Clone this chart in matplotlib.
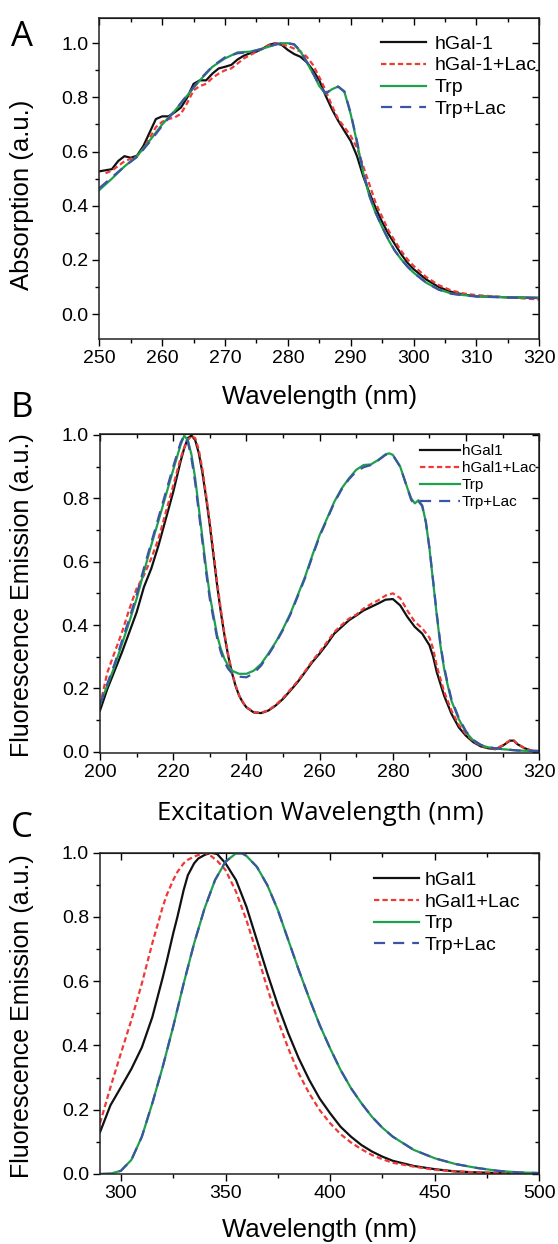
import matplotlib
matplotlib.use("Agg")
import matplotlib.pyplot as plt
from matplotlib.ticker import MultipleLocator

plt.rcParams['font.family'] = ['Liberation Sans', 'DejaVu Sans']

# ---------------- panel A: absorption ----------------
a_wl_hgal = [250, 252, 253, 254, 255, 256, 257, 258, 259, 260, 261, 262, 263, 264, 265, 266, 267, 268, 269, 270,
             271, 272, 273, 274, 275, 276, 277, 278, 279, 280, 281, 282, 283, 284, 285, 286, 287, 288, 289, 290,
             291, 292, 293, 294, 295, 296, 297, 298, 299, 300, 302, 304, 306, 308, 310, 315, 320]
a_hgal = [0.527, 0.535, 0.565, 0.583, 0.577, 0.585, 0.62, 0.67, 0.72, 0.73, 0.73, 0.745, 0.763, 0.80, 0.85, 0.863,
          0.863, 0.888, 0.907, 0.913, 0.92, 0.94, 0.954, 0.963, 0.969, 0.98, 0.994, 1.0, 0.994, 0.975, 0.96, 0.95,
          0.93, 0.90, 0.863, 0.807, 0.757, 0.714, 0.676, 0.639, 0.583, 0.508, 0.446, 0.39, 0.34, 0.296, 0.259,
          0.222, 0.19, 0.166, 0.128, 0.10, 0.082, 0.072, 0.066, 0.062, 0.06]
a_wl_hgal_lac = [251, 252, 254, 256, 257, 258, 259, 260, 261, 262, 263, 264, 265, 266, 267, 268, 269, 270, 271, 272,
                 273, 274, 275, 276, 277, 278, 279, 280, 281, 282, 283, 284, 285, 286, 287, 288, 289, 290, 291, 292,
                 293, 294, 295, 296, 297, 298, 299, 300, 302, 304, 306, 308, 310, 315, 320]
a_hgal_lac = [0.52, 0.53, 0.564, 0.583, 0.61, 0.65, 0.69, 0.71, 0.72, 0.726, 0.74, 0.78, 0.826, 0.842, 0.85, 0.872,
              0.888, 0.90, 0.907, 0.925, 0.944, 0.956, 0.969, 0.98, 0.993, 1.0, 0.995, 0.99, 0.98, 0.969, 0.95,
              0.92, 0.875, 0.826, 0.77, 0.72, 0.69, 0.658, 0.614, 0.545, 0.477, 0.408, 0.359, 0.309, 0.271, 0.234,
              0.203, 0.178, 0.137, 0.107, 0.087, 0.076, 0.07, 0.062, 0.054]
a_wl_trp = [250, 252, 254, 256, 258, 260, 262, 264, 266, 268, 270, 272, 274, 276, 278, 279, 280, 281, 282, 283,
            284, 285, 286, 287, 288, 289, 290, 291, 292, 293, 294, 295, 296, 297, 298, 299, 300, 302, 304, 306,
            308, 310, 315, 320]
a_trp = [0.458, 0.50, 0.545, 0.583, 0.64, 0.70, 0.75, 0.807, 0.863, 0.913, 0.944, 0.966, 0.969, 0.98, 0.995, 1.0,
         1.0, 0.995, 0.97, 0.93, 0.888, 0.842, 0.813, 0.83, 0.84, 0.82, 0.738, 0.633, 0.52, 0.433, 0.371, 0.321,
         0.274, 0.234, 0.203, 0.176, 0.153, 0.116, 0.091, 0.076, 0.07, 0.066, 0.062, 0.06]
a_trp_lac = [0.465, 0.505, 0.545, 0.58, 0.635, 0.695, 0.75, 0.81, 0.866, 0.915, 0.948, 0.963, 0.967, 0.98, 0.995,
             1.0, 1.0, 0.996, 0.972, 0.932, 0.89, 0.845, 0.815, 0.83, 0.84, 0.822, 0.742, 0.638, 0.525, 0.437,
             0.373, 0.322, 0.275, 0.235, 0.203, 0.176, 0.153, 0.116, 0.09, 0.075, 0.069, 0.065, 0.061, 0.059]

# ---------------- panel B: excitation ----------------
b_wl_hgal = [200, 202, 204, 206, 208, 210, 212, 214, 216, 218, 220, 222, 223, 224, 225, 226, 227, 228, 229, 230,
             231, 232, 233, 234, 235, 236, 237, 238, 239, 240, 242, 244, 246, 248, 250, 252, 254, 256, 258, 260,
             262, 264, 266, 268, 270, 272, 274, 276, 278, 280, 282, 284, 286, 288, 290, 291, 292, 294, 296, 298,
             300, 302, 304, 306, 308, 310, 312, 313, 314, 316, 318, 320]
b_hgal = [0.13, 0.198, 0.256, 0.314, 0.377, 0.44, 0.52, 0.578, 0.652, 0.736, 0.82, 0.916, 0.958, 0.99, 0.998, 0.984,
          0.942, 0.879, 0.80, 0.715, 0.62, 0.525, 0.441, 0.367, 0.304, 0.251, 0.209, 0.177, 0.156, 0.14, 0.124,
          0.122, 0.13, 0.146, 0.167, 0.193, 0.22, 0.251, 0.283, 0.31, 0.34, 0.373, 0.394, 0.415, 0.43, 0.446,
          0.457, 0.468, 0.48, 0.482, 0.462, 0.425, 0.394, 0.373, 0.336, 0.30, 0.251, 0.177, 0.12, 0.077, 0.05,
          0.03, 0.017, 0.011, 0.008, 0.019, 0.035, 0.035, 0.024, 0.011, 0.003, 0.002]
b_hgal_lac = [0.146, 0.25, 0.314, 0.377, 0.45, 0.515, 0.557, 0.61, 0.673, 0.757, 0.84, 0.926, 0.96, 0.984, 0.997,
              0.99, 0.953, 0.89, 0.81, 0.725, 0.63, 0.535, 0.45, 0.373, 0.308, 0.254, 0.211, 0.178, 0.157, 0.141,
              0.125, 0.123, 0.131, 0.148, 0.17, 0.196, 0.223, 0.254, 0.287, 0.315, 0.346, 0.378, 0.4, 0.42, 0.433,
              0.452, 0.466, 0.478, 0.493, 0.50, 0.485, 0.445, 0.41, 0.39, 0.36, 0.325, 0.27, 0.19, 0.13, 0.085,
              0.055, 0.033, 0.019, 0.012, 0.009, 0.02, 0.036, 0.036, 0.025, 0.011, 0.003, 0.002]
b_wl_trp = [200, 202, 204, 206, 208, 210, 212, 214, 216, 218, 220, 222, 223, 224, 225, 226, 227, 228, 229, 230,
            231, 232, 233, 234, 235, 236, 238, 240, 242, 244, 246, 248, 250, 252, 254, 256, 258, 260, 262, 264,
            266, 268, 270, 272, 274, 276, 278, 279, 280, 282, 284, 285, 286, 287, 288, 289, 290, 291, 292, 293,
            294, 295, 296, 298, 300, 302, 304, 306, 308, 310, 312, 314, 316, 320]
b_trp = [0.15, 0.209, 0.27, 0.34, 0.41, 0.483, 0.568, 0.652, 0.73, 0.81, 0.89, 0.968, 0.998, 0.984, 0.937, 0.863,
         0.768, 0.673, 0.578, 0.494, 0.43, 0.367, 0.325, 0.293, 0.272, 0.256, 0.246, 0.246, 0.256, 0.277, 0.31,
         0.346, 0.388, 0.436, 0.494, 0.552, 0.62, 0.684, 0.736, 0.789, 0.831, 0.863, 0.89, 0.905, 0.907, 0.921,
         0.939, 0.942, 0.937, 0.90, 0.831, 0.80, 0.784, 0.794, 0.778, 0.726, 0.641, 0.536, 0.43, 0.335, 0.262,
         0.209, 0.161, 0.103, 0.061, 0.035, 0.021, 0.014, 0.011, 0.008, 0.006, 0.004, 0.003, 0.002]
b_trp_lac = [0.15, 0.215, 0.278, 0.35, 0.42, 0.495, 0.58, 0.66, 0.74, 0.82, 0.9, 0.975, 0.999, 0.978, 0.925, 0.85,
             0.755, 0.66, 0.565, 0.482, 0.42, 0.358, 0.315, 0.283, 0.262, 0.248, 0.237, 0.235, 0.248, 0.272, 0.306,
             0.343, 0.385, 0.433, 0.49, 0.548, 0.616, 0.68, 0.733, 0.786, 0.828, 0.86, 0.885, 0.898, 0.905, 0.92,
             0.937, 0.94, 0.936, 0.90, 0.83, 0.795, 0.78, 0.79, 0.776, 0.726, 0.643, 0.54, 0.435, 0.34, 0.268,
             0.214, 0.166, 0.107, 0.064, 0.037, 0.022, 0.014, 0.011, 0.008, 0.006, 0.004, 0.003, 0.002]

# ---------------- panel C: emission ----------------
c_wl_hgal = [290, 295, 300, 305, 310, 315, 320, 322, 325, 327, 330, 332, 335, 337, 340, 343, 346, 350, 355, 360,
             365, 370, 375, 380, 385, 390, 395, 400, 405, 410, 415, 420, 425, 430, 440, 450, 460, 470, 480, 490, 500]
c_hgal = [0.13, 0.214, 0.27, 0.327, 0.394, 0.488, 0.612, 0.665, 0.749, 0.80, 0.884, 0.93, 0.967, 0.982, 0.993, 1.0,
          0.996, 0.967, 0.915, 0.832, 0.728, 0.624, 0.526, 0.438, 0.36, 0.293, 0.235, 0.189, 0.147, 0.116, 0.09,
          0.07, 0.054, 0.041, 0.025, 0.015, 0.008, 0.005, 0.003, 0.002, 0.001]
c_wl_hgal_lac = [290, 295, 300, 305, 310, 315, 320, 322, 325, 327, 330, 332, 335, 340, 343, 346, 350, 355, 360,
                 365, 370, 375, 380, 385, 390, 395, 400, 405, 410, 415, 420, 425, 430, 440, 450, 460, 470, 480,
                 490, 500]
c_hgal_lac = [0.158, 0.27, 0.376, 0.479, 0.593, 0.718, 0.832, 0.87, 0.915, 0.94, 0.967, 0.978, 0.988, 1.0, 0.99,
              0.975, 0.946, 0.879, 0.79, 0.687, 0.578, 0.479, 0.391, 0.313, 0.251, 0.199, 0.158, 0.124, 0.098,
              0.077, 0.059, 0.046, 0.035, 0.023, 0.013, 0.008, 0.005, 0.003, 0.002, 0.001]
c_wl_trp = [290, 295, 300, 305, 310, 315, 320, 325, 330, 335, 340, 345, 350, 355, 358, 360, 365, 370, 375, 380,
            385, 390, 395, 400, 405, 410, 415, 420, 425, 430, 440, 450, 460, 470, 480, 490, 500]
c_trp = [0.0, 0.001, 0.01, 0.044, 0.116, 0.22, 0.334, 0.459, 0.593, 0.718, 0.827, 0.915, 0.972, 0.998, 0.998, 0.99,
         0.956, 0.899, 0.822, 0.728, 0.635, 0.547, 0.464, 0.391, 0.324, 0.267, 0.22, 0.178, 0.144, 0.116, 0.075,
         0.049, 0.031, 0.019, 0.01, 0.005, 0.003]
c_trp_lac = [0.0, 0.001, 0.01, 0.044, 0.116, 0.22, 0.334, 0.459, 0.593, 0.718, 0.827, 0.915, 0.972, 0.998, 0.998,
             0.99, 0.956, 0.899, 0.822, 0.728, 0.635, 0.547, 0.464, 0.391, 0.324, 0.267, 0.22, 0.178, 0.144, 0.116,
             0.075, 0.049, 0.031, 0.019, 0.01, 0.005, 0.003]

labels_a = ["hGal-1", "hGal-1+Lac", "Trp", "Trp+Lac"]
labels_bc = ["hGal1", "hGal1+Lac", "Trp", "Trp+Lac"]

BLACK = "#111111"
RED = "#ee3a36"
GREEN = "#1ea04c"
BLUE = "#3c54a4"
LW = 1.6
RED_DASH = (0, (2.4, 1.4))
BLUE_DASH = (0, (5.0, 3.6))

W, H = 558, 1244
fig = plt.figure(figsize=(W / 100, H / 100), dpi=100)


def px_axes(left, top, right, bottom):
    return fig.add_axes([left / W, 1 - bottom / H, (right - left) / W, (bottom - top) / H])


def style(ax, xmaj, ymaj=0.2):
    ax.xaxis.set_major_locator(MultipleLocator(xmaj))
    ax.xaxis.set_minor_locator(MultipleLocator(xmaj / 2))
    ax.yaxis.set_major_locator(MultipleLocator(ymaj))
    ax.yaxis.set_minor_locator(MultipleLocator(ymaj / 2))
    ax.yaxis.set_major_formatter(plt.FormatStrFormatter("%.1f"))
    ax.tick_params(which="both", direction="out", top=False, right=False, labelsize=14, width=1.0, pad=3)
    ax.tick_params(which="major", length=5)
    ax.tick_params(which="minor", length=3)
    # top and right frame carry inward ticks, as in the original figure
    sec = ax.secondary_xaxis("top")
    sec.xaxis.set_major_locator(MultipleLocator(xmaj))
    sec.xaxis.set_minor_locator(MultipleLocator(xmaj / 2))
    sec.tick_params(which="both", direction="in", labeltop=False, width=1.0)
    sec.tick_params(which="major", length=5)
    sec.tick_params(which="minor", length=3)
    secy = ax.secondary_yaxis("right")
    secy.yaxis.set_major_locator(MultipleLocator(ymaj))
    secy.yaxis.set_minor_locator(MultipleLocator(ymaj / 2))
    secy.tick_params(which="both", direction="in", labelright=False, width=1.0)
    secy.tick_params(which="major", length=5)
    secy.tick_params(which="minor", length=3)
    for s in ax.spines.values():
        s.set_linewidth(1.1)
        s.set_color("#222222")


def draw(ax, xs, ys, labels):
    ax.plot(xs[0], ys[0], color=BLACK, lw=LW, label=labels[0])
    ax.plot(xs[1], ys[1], color=RED, lw=LW, ls=RED_DASH, label=labels[1])
    ax.plot(xs[2], ys[2], color=GREEN, lw=LW, label=labels[2])
    ax.plot(xs[3], ys[3], color=BLUE, lw=LW, ls=BLUE_DASH, label=labels[3])


# panel A
axA = px_axes(99.3, 18.3, 539.3, 339.3)
draw(axA, [a_wl_hgal, a_wl_hgal_lac, a_wl_trp, a_wl_trp],
     [a_hgal, a_hgal_lac, a_trp, a_trp_lac], labels_a)
axA.set_xlim(250, 320)
axA.set_ylim(-0.093, 1.092)
style(axA, 10)
axA.legend(loc="upper left", bbox_to_anchor=(0.640, 0.948), frameon=False, fontsize=14,
           borderpad=0, borderaxespad=0, handlelength=2.3, handletextpad=0.45, labelspacing=0.22)

# panel B
axB = px_axes(100, 434, 539.3, 753)
draw(axB, [b_wl_hgal, b_wl_hgal, b_wl_trp, b_wl_trp],
     [b_hgal, b_hgal_lac, b_trp, b_trp_lac], labels_bc)
axB.set_xlim(200, 320)
axB.set_ylim(-0.004, 1.003)
style(axB, 20)
axB.legend(loc="upper left", bbox_to_anchor=(0.728, 0.968), frameon=False, fontsize=11,
           borderpad=0, borderaxespad=0, handlelength=2.6, handletextpad=0.15, labelspacing=0.2)

# panel C
axC = px_axes(100, 852.7, 539.3, 1174)
draw(axC, [c_wl_hgal, c_wl_hgal_lac, c_wl_trp, c_wl_trp],
     [c_hgal, c_hgal_lac, c_trp, c_trp_lac], labels_bc)
axC.set_xlim(290, 500)
axC.set_ylim(0, 1.0)
style(axC, 50)
axC.legend(loc="upper left", bbox_to_anchor=(0.624, 0.943), frameon=False, fontsize=14,
           borderpad=0, borderaxespad=0, handlelength=2.3, handletextpad=0.3, labelspacing=0.22)

# axis labels placed in figure pixels
LAB = 18.5
fig.text(320 / W, 1 - 397 / H, "Wavelength (nm)", ha="center", va="center", fontsize=LAB)
fig.text(320 / W, 1 - 813 / H, "Excitation Wavelength (nm)", ha="center", va="center", fontsize=LAB,
         family=["Open Sans", "DejaVu Sans"])
fig.text(320 / W, 1 - 1230 / H, "Wavelength (nm)", ha="center", va="center", fontsize=LAB)
fig.text(22 / W, 1 - 195 / H, "Absorption (a.u.)", rotation=90, ha="center", va="center", fontsize=LAB)
fig.text(22 / W, 1 - 595 / H, "Fluorescence Emission (a.u.)", rotation=90, ha="center", va="center", fontsize=18)
fig.text(22 / W, 1 - 1016 / H, "Fluorescence Emission (a.u.)", rotation=90, ha="center", va="center", fontsize=18)

# panel letters
for letter, y in [("A", 37), ("B", 408), ("C", 828)]:
    fig.text(22 / W, 1 - y / H, letter, ha="center", va="center", fontsize=25,
             family=["Open Sans", "DejaVu Sans"])

fig.savefig("out.png", dpi=100)
